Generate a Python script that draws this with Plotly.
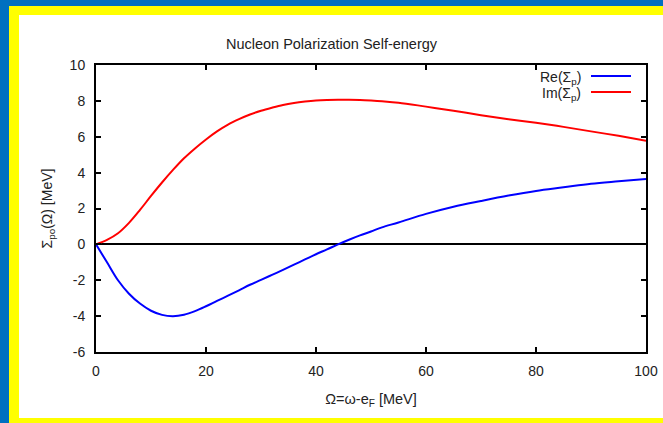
import plotly.graph_objects as go

# Data
x_im = [0, 2, 4, 6, 8, 10, 12, 14, 16, 18, 20, 22, 24, 26, 28, 30, 32, 34, 36, 38, 40,
        42, 44, 46, 48, 50, 52, 55, 60, 65, 70, 75, 80, 85, 90, 95, 100]
im_sigma = [0, 0.25, 0.62, 1.2, 1.92, 2.7, 3.45, 4.15, 4.8, 5.35, 5.85, 6.3, 6.68, 6.98,
            7.24, 7.45, 7.62, 7.77, 7.88, 7.96, 8.02, 8.05, 8.06, 8.06, 8.05, 8.02, 7.98,
            7.9, 7.68, 7.45, 7.2, 6.98, 6.78, 6.55, 6.3, 6.05, 5.78]

x_re = [0, 2, 4, 6, 8, 10, 12, 14, 16, 18, 20, 22, 24, 26, 28, 30, 32, 34, 36, 38, 40,
        42, 44, 46, 48, 50, 52, 55, 60, 65, 70, 75, 80, 85, 90, 95, 100]
re_sigma = [0, -1.0, -2.0, -2.75, -3.3, -3.7, -3.93, -4.0, -3.92, -3.72, -3.45, -3.15,
            -2.86, -2.56, -2.25, -1.98, -1.7, -1.42, -1.13, -0.84, -0.55, -0.28, 0.0,
            0.26, 0.5, 0.72, 0.95, 1.22, 1.7, 2.1, 2.42, 2.72, 2.98, 3.18, 3.38, 3.52, 3.65]

x_ticks = [0, 20, 40, 60, 80, 100]
x_ticklabels = ["0", "20", "40", "60", "80", "100"]
y_ticks = [-6, -4, -2, 0, 2, 4, 6, 8, 10]
y_ticklabels = ["-6", "-4", "-2", "0", "2", "4", "6", "8", "10"]

legend_labels = ["Re(Σ<sub>p</sub>)", "Im(Σ<sub>p</sub>)"]
colors = ["#0000ff", "#ff0000"]

W, H = 663, 423
L, R, T, B = 96, 17, 65, 71
PW, PH = W - L - R, H - T - B


def px(xp):
    return (xp - L) / PW


def py(yp):
    return (H - B - yp) / PH


fig = go.Figure()
fig.add_trace(go.Scatter(x=x_re, y=re_sigma, mode="lines", line=dict(color=colors[0], width=2),
                         line_shape="spline", showlegend=False))
fig.add_trace(go.Scatter(x=x_im, y=im_sigma, mode="lines", line=dict(color=colors[1], width=2),
                         line_shape="spline", showlegend=False))

shapes = [
    # yellow frame
    dict(type="rect", xref="paper", yref="paper", x0=px(9), x1=px(700), y0=py(430), y1=py(6),
         fillcolor="#ffff00", line=dict(width=0), layer="below"),
    # white page
    dict(type="rect", xref="paper", yref="paper", x0=px(19), x1=px(700), y0=py(418), y1=py(15),
         fillcolor="#ffffff", line=dict(width=0), layer="below"),
]
annotations = []
leg_y = [76, 92]
for lab, col, yy in zip(legend_labels, colors, leg_y):
    shapes.append(dict(type="line", xref="paper", yref="paper", x0=px(591), x1=px(631),
                       y0=py(yy), y1=py(yy), line=dict(color=col, width=2)))
    annotations.append(dict(text=lab, xref="paper", yref="paper", x=px(583), y=py(yy + 2),
                            xanchor="right", yanchor="middle", showarrow=False,
                            font=dict(size=14, color="#222222")))

fig.update_layout(
    width=W, height=H,
    autosize=False,
    margin=dict(l=L, r=R, t=T, b=B, autoexpand=False),
    paper_bgcolor="#0070c0",
    plot_bgcolor="#ffffff",
    font=dict(family="Liberation Sans, Arial, sans-serif", size=14, color="#222222"),
    title=dict(text="Nucleon Polarization Self-energy", x=px(371), xanchor="center",
               y=1 - 44 / H, yanchor="middle", font=dict(size=14.5, color="#222222")),
    shapes=shapes,
    annotations=annotations,
    xaxis=dict(range=[0, 100], tickvals=x_ticks, ticktext=x_ticklabels,
               showgrid=False, zeroline=False, automargin=False,
               showline=True, linecolor="black", linewidth=2, mirror="ticks",
               ticks="inside", ticklen=5, tickwidth=1.5, tickcolor="black",
               tickfont=dict(size=14), ticklabelstandoff=5,
               title=dict(text="Ω=ω-e<sub>F</sub> [MeV]", standoff=16,
                          font=dict(size=14.5, color="#222222"))),
    yaxis=dict(range=[-6, 10], tickvals=y_ticks, ticktext=y_ticklabels,
               showgrid=False, zeroline=True, automargin=False,
               zerolinecolor="black", zerolinewidth=2,
               showline=True, linecolor="black", linewidth=2, mirror="ticks",
               ticks="inside", ticklen=5, tickwidth=1.5, tickcolor="black",
               tickfont=dict(size=14), ticklabelstandoff=6,
               title=dict(text="Σ<sub>po</sub>(Ω) [MeV]", standoff=14,
                          font=dict(size=14, color="#222222"))),
)

fig.write_html("out.html", config={"displayModeBar": False},
               post_script="document.body.style.margin='0';document.body.style.padding='0';")
